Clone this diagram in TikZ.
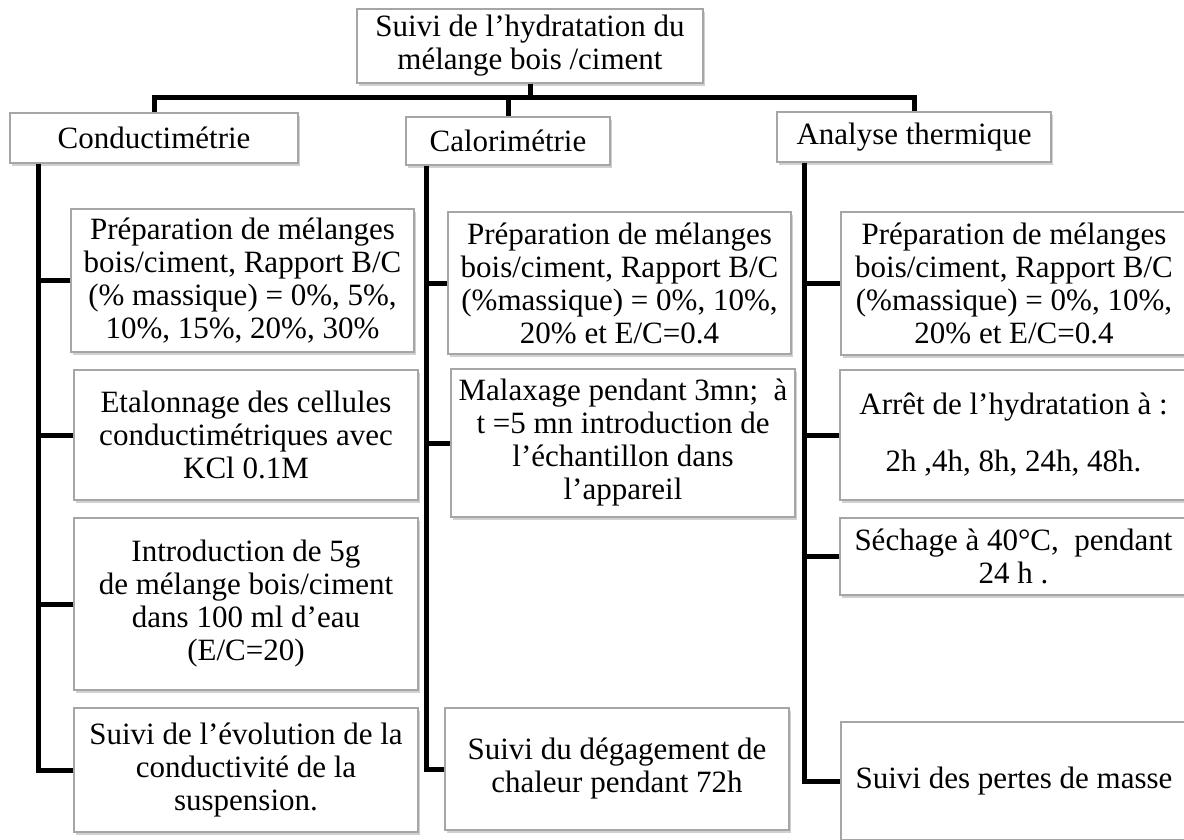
\documentclass[tikz,border=0pt]{standalone}
\usepackage{fontspec}
\setmainfont{Liberation Serif}
\usetikzlibrary{shadows}

\begin{document}
\begin{tikzpicture}[x=1pt,y=-1pt,
        box/.style={rectangle,draw=gray!70,line width=1.2pt,fill=white,inner sep=0pt,
            align=center,font=\fontsize{31}{33}\selectfont,
            drop shadow={shadow xshift=1.5pt,shadow yshift=-2.5pt,opacity=0.3,fill=black!60}},
        link/.style={line width=5pt,draw=black}]

    \clip (0,0) rectangle (1184,839);

    \node[box,minimum width=346,minimum height=74] (top) at (530,46) {Suivi de l’hydratation du\\mélange bois /ciment};

    \node[box,minimum width=288,minimum height=50] (cond) at (154,138) {Conductimétrie};
    \node[box,minimum width=204,minimum height=48] (calo) at (508,141) {Calorimétrie};
    \node[box,minimum width=274,minimum height=50] (anal) at (914,137) {Analyse thermique};

    % conductimetrie
    \node[box,minimum width=343,minimum height=143] (c1) at (242.5,280.5) {Préparation de mélanges\\bois/ciment, Rapport B/C\\(\%\ massique) = 0\%, 5\%,\\10\%, 15\%, 20\%, 30\%};
    \node[box,minimum width=344,minimum height=130] (c2) at (246,435) {Etalonnage des cellules\\conductimétriques avec\\KCl 0.1M};
    \node[box,minimum width=344,minimum height=172] (c3) at (246,604) {Introduction de 5g\\de mélange bois/ciment\\dans 100 ml d’eau\\(E/C=20)};
    \node[box,minimum width=344,minimum height=124] (c4) at (246,770) {Suivi de l’évolution de la\\conductivité de la\\suspension.};

    % calorimetrie
    \node[box,minimum width=343,minimum height=142] (m1) at (619.5,283) {Préparation de mélanges\\bois/ciment, Rapport B/C\\(\%massique) = 0\%, 10\%,\\20\% et E/C=0.4};
    \node[box,minimum width=344,minimum height=148] (m2) at (623,443) {Malaxage pendant 3mn;\ \ à\\t =5 mn introduction de\\l’échantillon dans\\l’appareil};
    \node[box,minimum width=344,minimum height=122] (m3) at (617,769) {Suivi du dégagement de\\chaleur pendant 72h};

    % analyse thermique
    \node[box,minimum width=346,minimum height=143] (r1) at (1014,283.5) {Préparation de mélanges\\bois/ciment, Rapport B/C\\(\%massique) = 0\%, 10\%,\\20\% et E/C=0.4};
    \node[box,minimum width=347,minimum height=130] (r2) at (1013.5,435) {Arrêt de l’hydratation à :\\[24pt]2h ,4h, 8h, 24h, 48h.};
    \node[box,minimum width=347,minimum height=77] (r3) at (1013.5,556.5) {Séchage à 40°C,\ \ pendant\\24 h .};
    \node[box,minimum width=346,minimum height=118] (r4) at (1014,781) {Suivi des pertes de masse};

    \coordinate (bus) at (530,97);
    \coordinate (cA) at ([xshift=29pt]cond.south west);
    \coordinate (mA) at ([xshift=21pt]calo.south west);
    \coordinate (rA) at ([xshift=28pt]anal.south west);

    \draw[link] (top.south) -- (bus);
    \draw[link] (cond.north) |- (bus);
    \draw[link] (anal.north) |- (bus);
    \draw[link] (calo.north) |- (bus);

    \draw[link] (cA) |- (c4.west);
    \foreach \n in {c1,c2,c3}
        \draw[link] (cA |- \n.west) -- (\n.west);

    \draw[link] (mA) |- (m3.west);
    \foreach \n in {m1,m2}
        \draw[link] (mA |- \n.west) -- (\n.west);

    \draw[link] (rA) |- (r4.west);
    \foreach \n in {r1,r2,r3}
        \draw[link] (rA |- \n.west) -- (\n.west);

\end{tikzpicture}
\end{document}
